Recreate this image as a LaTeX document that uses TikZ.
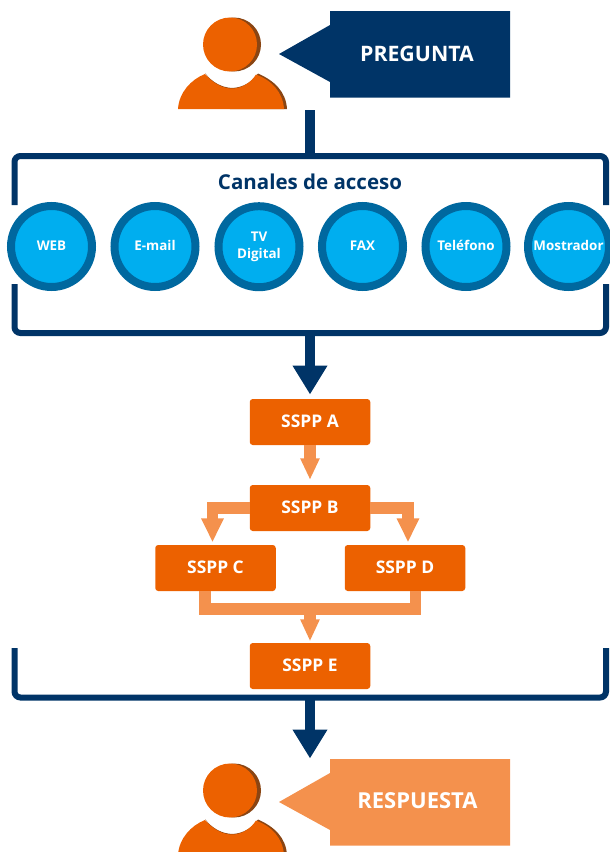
\documentclass[tikz,border=0pt]{standalone}
\usepackage{fontspec}
\setmainfont{Open Sans}
\usetikzlibrary{arrows.meta,calc}
\definecolor{navy}{HTML}{003467}
\definecolor{orng}{HTML}{EC6100}
\definecolor{lorng}{HTML}{F4914D}
\definecolor{dkor}{HTML}{8A4513}
\definecolor{ringb}{HTML}{00689F}
\definecolor{skyb}{HTML}{00AEEF}
\tikzset{
  x=1pt,y=-1pt,
  chanbase/.style={circle,draw=ringb,line width=8pt,fill=skyb,minimum size=81pt,inner sep=0pt,text=white,font=\fontsize{13.4}{17.5}\selectfont\bfseries},
  chan/.style={chanbase,text height=10pt,text depth=2.4pt},
  sspp/.style={rectangle,rounded corners=3pt,fill=orng,minimum width=120.5pt,minimum height=46pt,inner sep=0pt,text=white,text height=12pt,text depth=2pt,font=\fontsize{17.4}{20}\selectfont\bfseries},
  framel/.style={draw=navy,line width=6pt,rounded corners=6pt},
  navyarrow/.style={draw=navy,line width=10pt,-{Triangle[width=33pt,length=29pt,fill=navy]}},
  navyline/.style={draw=navy,line width=10pt},
  orline/.style={draw=lorng,line width=11.5pt},
  calltext/.style={text=white,font=\fontsize{21.3}{24}\selectfont\bfseries,inner sep=0pt,text height=16pt,text depth=2pt},
  pics/person/.style={code={
    \fill[dkor] (4,0) circle[radius=27];
    \fill[orng] (0,0) circle[radius=27];
    \fill[dkor] (-25,28.5) .. controls (-18,38) and (-8,43) .. (2,43.5) .. controls (14,43) and (22,37) .. (28,29) .. controls (44,36) and (56,47) .. (57,64.5) -- (0,64.5) -- cycle;
    \fill[orng] (-52,64.5) .. controls (-51,48) and (-39,35) .. (-25,29.5) .. controls (-17,39) and (-7,44) .. (2,44) .. controls (12,44) and (21,38) .. (26,30) .. controls (42,36) and (53,48) .. (54,64.5) -- cycle;
  }}
}
\begin{document}
\begin{tikzpicture}
\useasboundingbox (0,0) rectangle (610,852);
% persons
\pic at (230,44.5) {person};
\pic at (230,790.5) {person};
% callouts
\fill[navy] (279,54) -- (330,25) -- (330,11) -- (510,11) -- (510,97.5) -- (330,97.5) -- (330,82) -- cycle;
\node[calltext] (preg) at (417,54) {PREGUNTA};
\fill[lorng] (279,802) -- (330,773) -- (330,759) -- (510,759) -- (510,845.5) -- (330,845.5) -- (330,830) -- cycle;
\node[calltext,font=\fontsize{22}{24}\selectfont\bfseries] (resp) at (417.5,801.3) {RESPUESTA};
% frames
\coordinate (ftl) at (14.5,205);
\coordinate (ftr) at (606,205);
\coordinate (fbl) at (14.5,284);
\coordinate (fbr) at (606,284);
\coordinate (topm) at (310,156);
\coordinate (botm) at (310,333);
\coordinate (persb) at (310,110);
\coordinate (low1) at (14.5,648);
\coordinate (low2) at (606,648);
\coordinate (lowm) at (310,697.5);
\coordinate (tipa) at (310,394.5);
\coordinate (tipb) at (310,758.5);
\draw[framel] (ftl) |- (topm) -| (ftr);
\draw[framel] (fbl) |- (botm) -| (fbr);
\draw[framel] (low1) |- (lowm) -| (low2);
\draw[navyline] (persb) -- (topm);
\draw[navyarrow] (botm) -- (tipa);
\draw[navyarrow] (lowm) -- (tipb);
\node[text=navy,font=\fontsize{20.5}{24}\selectfont\bfseries,inner sep=0pt,text height=18pt,text depth=2.4pt] (canales) at (310,181.5) {Canales de acceso};
% channels
\node[chan] (web) at (51.5,246.5) {WEB};
\node[chan] (mail) at (155,246.5) {E-mail};
\node[chanbase,align=center] (tv) at (259,246.7) {TV\\Digital};
\node[chan] (fax) at (362.5,246.5) {FAX};
\node[chan] (tel) at (466,246.5) {Teléfono};
\node[chan] (most) at (568.5,246.5) {Mostrador};
% boxes
\node[sspp] (A) at (310,422) {SSPP A};
\node[sspp] (B) at (310,508) {SSPP B};
\node[sspp] (C) at (215.5,568) {SSPP C};
\node[sspp] (D) at (405,568) {SSPP D};
\node[sspp] (E) at (310,666) {SSPP E};
% connectors
\draw[orline,-{Triangle[width=18pt,length=21.5pt,fill=lorng]},shorten >=5pt] (A.south) -- (B.north);
\draw[orline,-{Triangle[width=21pt,length=24pt,fill=lorng]},shorten >=2.5pt] (B.west) -| ([xshift=-3]C.north);
\draw[orline,-{Triangle[width=21pt,length=24pt,fill=lorng]},shorten >=2.5pt] (B.east) -| ([xshift=3]D.north);
\coordinate (merge) at (310,609);
\draw[orline] ([xshift=-10.5]C.south) -- ([xshift=-10.5]C.south |- merge) -- ([xshift=10.5]D.south |- merge) -- ([xshift=10.5]D.south);
\draw[orline,-{Triangle[width=18pt,length=22pt,fill=lorng]},shorten >=1.5pt] (merge) -- (E.north);
\end{tikzpicture}
\end{document}
